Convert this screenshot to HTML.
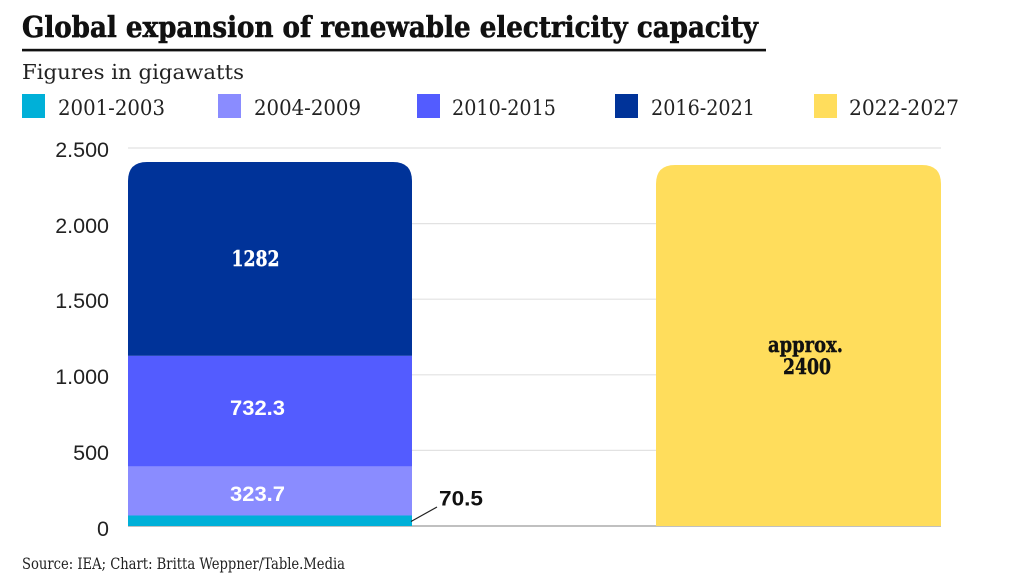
<!DOCTYPE html>
<html><head><meta charset="utf-8"><style>
html,body{margin:0;padding:0;background:#fff;}
svg{display:block;}
</style></head><body>
<svg width="1024" height="576" viewBox="0 0 1024 576" xmlns="http://www.w3.org/2000/svg">
<rect width="1024" height="576" fill="#fff"/>
<!-- Title -->
<text x="22" y="37" font-family="'DejaVu Serif','Liberation Serif',serif" font-weight="bold" font-size="28.5" fill="#111" stroke="#111" stroke-width="0.6" textLength="736" lengthAdjust="spacingAndGlyphs">Global expansion of renewable electricity capacity</text>
<rect x="22" y="48.8" width="744" height="2.6" fill="#111"/>
<!-- Subtitle -->
<text x="22" y="79" font-family="'DejaVu Serif','Liberation Serif',serif" font-size="20.5" fill="#222" textLength="222" lengthAdjust="spacingAndGlyphs">Figures in gigawatts</text>
<!-- Legend -->
<g font-family="'DejaVu Serif','Liberation Serif',serif" font-size="21.5" fill="#222">
<rect x="22" y="94" width="23" height="24" fill="#00B0D8"/>
<text x="58" y="115" textLength="107" lengthAdjust="spacingAndGlyphs">2001-2003</text>
<rect x="218" y="94" width="23" height="24" fill="#8A8CFF"/>
<text x="254" y="115" textLength="107" lengthAdjust="spacingAndGlyphs">2004-2009</text>
<rect x="417" y="94" width="23" height="24" fill="#535CFF"/>
<text x="452" y="115" textLength="104" lengthAdjust="spacingAndGlyphs">2010-2015</text>
<rect x="615" y="94" width="23" height="24" fill="#003399"/>
<text x="651" y="115" textLength="104" lengthAdjust="spacingAndGlyphs">2016-2021</text>
<rect x="814" y="94" width="23" height="24" fill="#FFDD5C"/>
<text x="849" y="115" textLength="110" lengthAdjust="spacingAndGlyphs">2022-2027</text>
</g>
<!-- Gridlines -->
<g stroke="#e2e2e2" stroke-width="1.2">
<line x1="128" y1="148" x2="941" y2="148"/>
<line x1="128" y1="223.6" x2="941" y2="223.6"/>
<line x1="128" y1="299.2" x2="941" y2="299.2"/>
<line x1="128" y1="374.8" x2="941" y2="374.8"/>
<line x1="128" y1="450.4" x2="941" y2="450.4"/>
</g>
<line x1="128" y1="526" x2="941" y2="526" stroke="#9a9a9a" stroke-width="1.2"/>
<!-- Y labels -->
<g font-family="'Liberation Sans',Arial,sans-serif" font-size="21.5" fill="#222" text-anchor="end">
<text x="109" y="157">2.500</text>
<text x="109" y="233">2.000</text>
<text x="109" y="308">1.500</text>
<text x="109" y="384">1.000</text>
<text x="109" y="460">500</text>
<text x="109" y="536">0</text>
</g>
<!-- Left stacked bar -->
<rect x="128" y="515.5" width="284" height="10.5" fill="#00B0D8"/>
<rect x="128" y="466.4" width="284" height="49.1" fill="#8A8CFF"/>
<rect x="128" y="355.7" width="284" height="110.7" fill="#535CFF"/>
<path d="M128,355.7 L128,181 Q128,162 147,162 L393,162 Q412,162 412,181 L412,355.7 Z" fill="#003399"/>
<!-- Right bar -->
<path d="M656,526 L656,184 Q656,165 675,165 L922,165 Q941,165 941,184 L941,526 Z" fill="#FFDD5C"/>
<!-- Bar labels -->
<text x="255.5" y="266" text-anchor="middle" font-family="'DejaVu Serif','Liberation Serif',serif" font-weight="bold" font-size="21.5" fill="#fff" stroke="#fff" stroke-width="0.4" textLength="48" lengthAdjust="spacingAndGlyphs">1282</text>
<text x="257.5" y="415" text-anchor="middle" font-family="'Liberation Sans',Arial,sans-serif" font-weight="bold" font-size="21.5" fill="#fff" textLength="55" lengthAdjust="spacingAndGlyphs">732.3</text>
<text x="257.5" y="501" text-anchor="middle" font-family="'Liberation Sans',Arial,sans-serif" font-weight="bold" font-size="21.5" fill="#fff" textLength="55" lengthAdjust="spacingAndGlyphs">323.7</text>
<text x="805.5" y="352" text-anchor="middle" font-family="'DejaVu Serif','Liberation Serif',serif" font-weight="bold" font-size="21.5" fill="#111" stroke="#111" stroke-width="0.4" textLength="75" lengthAdjust="spacingAndGlyphs">approx.</text>
<text x="807" y="374" text-anchor="middle" font-family="'DejaVu Serif','Liberation Serif',serif" font-weight="bold" font-size="21.5" fill="#111" stroke="#111" stroke-width="0.4" textLength="48" lengthAdjust="spacingAndGlyphs">2400</text>
<!-- 70.5 annotation -->
<line x1="411" y1="521.5" x2="437" y2="507" stroke="#222" stroke-width="1.2"/>
<text x="439" y="505.5" font-family="'Liberation Sans',Arial,sans-serif" font-weight="bold" font-size="21.5" fill="#111" textLength="44" lengthAdjust="spacingAndGlyphs">70.5</text>
<!-- Footer -->
<text x="22" y="569" font-family="'DejaVu Serif','Liberation Serif',serif" font-size="15.5" fill="#222" textLength="323" lengthAdjust="spacingAndGlyphs">Source: IEA; Chart: Britta Weppner/Table.Media</text>
</svg>
</body></html>
